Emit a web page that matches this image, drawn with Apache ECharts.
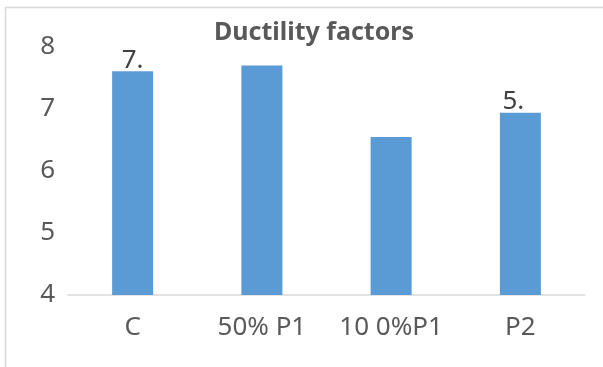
<!DOCTYPE html>
<html>
<head>
<meta charset="utf-8">
<script src="https://cdn.jsdelivr.net/npm/echarts@6/dist/echarts.min.js"></script>
<style>
  html, body { margin: 0; padding: 0; background: #fff; }
  #chart { width: 603px; height: 367px; }
</style>
</head>
<body>
<div id="chart"></div>
<script>
// Specimen groups and their ductility factors
const categories = ['C', '50% P1', '10 0%P1', 'P2'];
const ductility = [7.61, 7.70, 6.55, 6.94];
// Text shown above the bars (empty = no label)
const barLabels = ['7.', '', '', '5.'];
const yTicks = { min: 4, max: 8, interval: 1 };

const FONT = '"Noto Sans", "Liberation Sans", sans-serif';
const chart = echarts.init(document.getElementById('chart'), null, { renderer: 'canvas' });

chart.setOption({
  backgroundColor: '#ffffff',
  animation: false,
  title: {
    text: 'Ductility factors',
    left: 309,
    top: 15,
    textAlign: 'center',
    textStyle: { fontFamily: FONT, fontSize: 25, fontWeight: 'bold', color: '#595959' }
  },
  graphic: [{
    type: 'rect',
    shape: { x: 5.5, y: 7.5, width: 700, height: 500 },
    style: { fill: 'none', stroke: '#D9D9D9', lineWidth: 1.5 },
    silent: true
  }],
  grid: { left: 68, right: 18, top: 47, bottom: 72 },
  xAxis: {
    type: 'category',
    data: categories,
    axisLine: { show: true, lineStyle: { color: '#D9D9D9', width: 1.5 } },
    axisTick: { show: false },
    axisLabel: { fontFamily: FONT, fontSize: 26, color: '#595959', margin: 20, interval: 0 }
  },
  yAxis: {
    type: 'value',
    min: yTicks.min,
    max: yTicks.max,
    interval: yTicks.interval,
    axisLine: { show: false },
    axisTick: { show: false },
    splitLine: { show: false },
    axisLabel: { fontFamily: FONT, fontSize: 26, color: '#595959', margin: 13, padding: [7, 0, 0, 0] }
  },
  series: [{
    type: 'bar',
    data: ductility.map((v, i) => ({
      value: v,
      label: {
        show: barLabels[i] !== '',
        formatter: barLabels[i],
        offset: i === 3 ? [-7, 0] : [0, 0]
      }
    })),
    barWidth: 41,
    itemStyle: { color: '#5B9BD5' },
    label: {
      position: 'top',
      distance: -2,
      fontFamily: FONT,
      fontSize: 26,
      color: '#404040'
    }
  }]
});
</script>
</body>
</html>
